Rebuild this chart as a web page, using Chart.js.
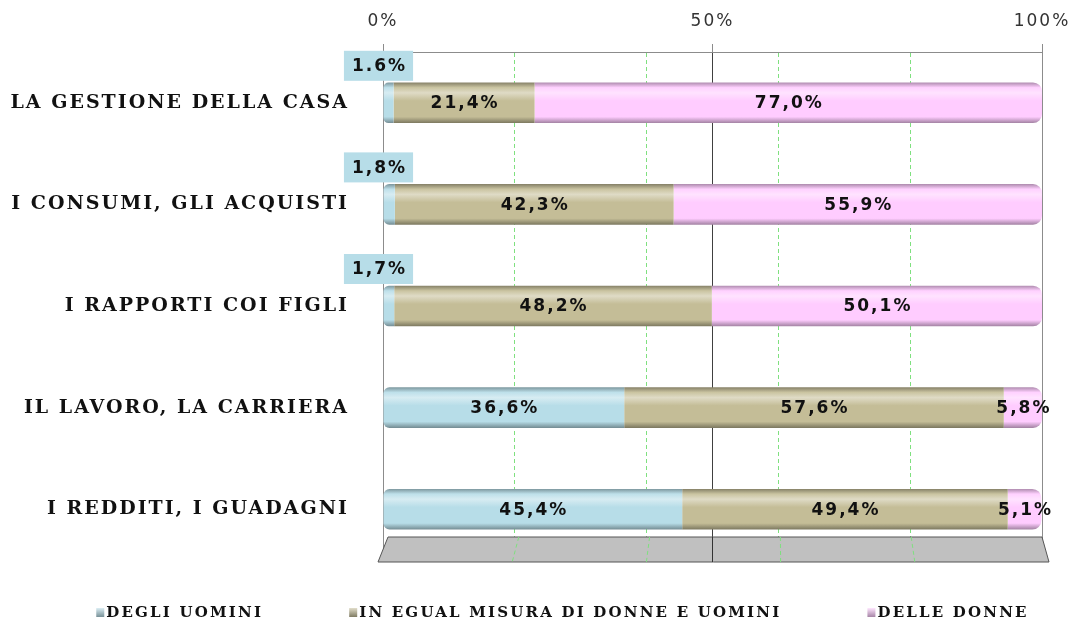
<!DOCTYPE html>
<html>
<head>
<meta charset="utf-8">
<script src="https://cdn.jsdelivr.net/npm/chart.js@4.4.1/dist/chart.umd.min.js"></script>
<style>
  html, body { margin: 0; padding: 0; background: #fff; }
  #wrap { width: 1073px; height: 623px; }
</style>
</head>
<body>
<div id="wrap"><canvas id="chart" width="1073" height="623"></canvas></div>
<script>
// --- data ---
const categories = [
    'LA GESTIONE DELLA CASA',
    'I CONSUMI, GLI ACQUISTI',
    'I RAPPORTI COI FIGLI',
    'IL LAVORO, LA CARRIERA',
    'I REDDITI, I GUADAGNI'
];
const seriesNames = ['DEGLI UOMINI', 'IN EGUAL MISURA DI DONNE E UOMINI', 'DELLE DONNE'];
const menValues = [1.6, 1.8, 1.7, 36.6, 45.4];
const equalValues = [21.4, 42.3, 48.2, 57.6, 49.4];
const womenValues = [77.0, 55.9, 50.1, 5.8, 5.1];
const xTickValues = [0, 50, 100];
const xTickLabels = ['0%', '50%', '100%'];
const minorGrid = [20, 40, 60, 80];

const seriesColors = ['#B7DDE8', '#C4BD97', '#FFCCFF'];

function shade(hex, amt) {
    const n = parseInt(hex.slice(1), 16);
    let r = (n >> 16) & 255, g = (n >> 8) & 255, b = n & 255;
    const t = amt < 0 ? 0 : 255, p = Math.abs(amt);
    r = Math.round(r + (t - r) * p);
    g = Math.round(g + (t - g) * p);
    b = Math.round(b + (t - b) * p);
    return `rgb(${r},${g},${b})`;
}

// vertical gradient so the bars look like tubes
function barFill(color) {
    return (c) => {
        const ys = c.chart.scales.y;
        if (c.type !== 'data' || !ys) return color;
        const yc = ys.getPixelForValue(c.dataIndex);
        if (!isFinite(yc)) return color;
        const h = 20;
        const g = c.chart.ctx.createLinearGradient(0, yc - h, 0, yc + h);
        g.addColorStop(0, shade(color, -0.3));
        g.addColorStop(0.12, shade(color, 0.1));
        g.addColorStop(0.25, shade(color, 0.45));
        g.addColorStop(0.45, color);
        g.addColorStop(0.85, color);
        g.addColorStop(1, shade(color, -0.35));
        return g;
    };
}

function pctText(v, di, i) {
    // first label in the picture is written with a dot
    if (di === 0 && i === 0) return v.toFixed(1) + '%';
    return v.toFixed(1).replace('.', ',') + '%';
}

const spacingPlugin = {
    id: 'spacing',
    beforeLayout(chart) { chart.ctx.letterSpacing = '2px'; },
    beforeDraw(chart) { chart.ctx.letterSpacing = '2px'; }
};

// grey floor under the bars
const floorPlugin = {
    id: 'floor',
    beforeDatasetsDraw(chart) {
        const { ctx, chartArea, scales: { x } } = chart;
        const x0 = x.getPixelForValue(0), x1 = x.getPixelForValue(100);
        const top = chartArea.bottom - 23, bot = chartArea.bottom + 2;
        const tl = x0 + 5, tr = x1, bl = x0 - 5, br = x1 + 7;
        ctx.save();
        ctx.beginPath();
        ctx.moveTo(tl, top); ctx.lineTo(tr, top); ctx.lineTo(br, bot); ctx.lineTo(bl, bot);
        ctx.closePath();
        ctx.fillStyle = '#C0C0C0';
        ctx.fill();
        ctx.strokeStyle = '#555';
        ctx.lineWidth = 1;
        ctx.stroke();
        minorGrid.forEach(v => {
            ctx.beginPath();
            ctx.setLineDash([4, 3]);
            ctx.strokeStyle = '#7FE07F';
            ctx.moveTo(tl + (tr - tl) * v / 100, top);
            ctx.lineTo(bl + (br - bl) * v / 100, bot);
            ctx.stroke();
        });
        ctx.setLineDash([]);
        ctx.strokeStyle = '#333';
        ctx.beginPath();
        ctx.moveTo(x.getPixelForValue(50), top);
        ctx.lineTo(x.getPixelForValue(50), bot);
        ctx.stroke();
        ctx.restore();
    }
};

const valueLabelPlugin = {
    id: 'valueLabels',
    afterDatasetsDraw(chart) {
        const ctx = chart.ctx;
        ctx.save();
        ctx.font = 'bold 17px "DejaVu Sans"';
        ctx.letterSpacing = '2px';
        ctx.textAlign = 'center';
        ctx.textBaseline = 'middle';
        chart.data.datasets.forEach((ds, di) => {
            const meta = chart.getDatasetMeta(di);
            meta.data.forEach((bar, i) => {
                const v = ds.data[i];
                const text = pctText(v, di, i);
                const { x, y, base } = bar.getProps(['x', 'y', 'base'], true);
                if (di === 0 && v < 5) {
                    const w = ctx.measureText(text).width + 14;
                    const cx = base - 5, cy = y - 37;
                    ctx.fillStyle = seriesColors[0];
                    ctx.fillRect(cx - w / 2, cy - 15, w, 30);
                    ctx.fillStyle = '#111';
                    ctx.fillText(text, cx + 1, cy + 1);
                } else {
                    ctx.fillStyle = '#111';
                    ctx.fillText(text, (x + base) / 2 + 1, y + 1);
                }
            });
        });
        ctx.restore();
    }
};

const legendPlugin = {
    id: 'bottomLegend',
    afterDraw(chart) {
        const ctx = chart.ctx;
        ctx.save();
        ctx.font = 'bold 15px "DejaVu Serif"';
        ctx.letterSpacing = '2.2px';
        ctx.textBaseline = 'middle';
        const box = 8, gap = 86, y = 613;
        const items = chart.data.datasets.map((ds, i) => ({
            text: ds.label, color: seriesColors[i],
            w: box + 2 + ctx.measureText(ds.label).width
        }));
        const total = items.reduce((s, it) => s + it.w, 0) + gap * (items.length - 1);
        let x = chart.width / 2 + 26 - total / 2;
        items.forEach(it => {
            const g = ctx.createLinearGradient(0, y - 5, 0, y + 4);
            g.addColorStop(0, shade(it.color, 0.5));
            g.addColorStop(1, shade(it.color, -0.35));
            ctx.fillStyle = g;
            ctx.fillRect(x, y - 5, box, box + 1);
            ctx.fillStyle = '#111';
            ctx.fillText(it.text, x + box + 2, y);
            x += it.w + gap;
        });
        ctx.restore();
    }
};

const ctx = document.getElementById('chart').getContext('2d');
const valueSets = [menValues, equalValues, womenValues];
const radii = [
    { topLeft: 6, bottomLeft: 6, topRight: 0, bottomRight: 0 },
    0,
    { topLeft: 0, bottomLeft: 0, topRight: 9, bottomRight: 9 }
];

new Chart(ctx, {
    type: 'bar',
    data: {
        labels: categories,
        datasets: seriesNames.map((name, i) => ({
            label: name,
            data: valueSets[i],
            backgroundColor: barFill(seriesColors[i]),
            borderRadius: radii[i],
            borderSkipped: false,
            barPercentage: 0.4,
            categoryPercentage: 1.0
        }))
    },
    options: {
        indexAxis: 'y',
        responsive: false,
        animation: false,
        devicePixelRatio: 1,
        layout: { padding: { left: 10, right: 31, top: 8, bottom: 63 } },
        plugins: {
            legend: { display: false },
            tooltip: { enabled: false }
        },
        scales: {
            x: {
                position: 'top',
                stacked: true,
                min: 0,
                max: 100,
                afterFit: (s) => {
                    s.height = 44;
                    s.paddingLeft = 0;
                    s.paddingRight = 0;
                },
                afterBuildTicks: (s) => {
                    const t = [];
                    for (let v = 0; v <= 100; v += 10) t.push({ value: v });
                    s.ticks = t;
                },
                ticks: {
                    autoSkip: false,
                    maxRotation: 0,
                    padding: 12,
                    color: '#333',
                    font: { family: 'DejaVu Sans', size: 17 },
                    callback: (v) => {
                        const k = xTickValues.indexOf(v);
                        return k >= 0 ? xTickLabels[k] : '';
                    }
                },
                grid: {
                    tickLength: 8,
                    color: (c) => {
                        const v = c.tick && c.tick.value;
                        if (v === 50) return '#404040';
                        if (xTickValues.includes(v)) return '#8C8C8C';
                        if (minorGrid.includes(v)) return '#7FE07F';
                        return 'rgba(0,0,0,0)';
                    },
                    tickColor: (c) => {
                        const v = c.tick && c.tick.value;
                        return xTickValues.includes(v) ? '#8C8C8C' : 'rgba(0,0,0,0)';
                    }
                },
                border: {
                    color: '#8C8C8C',
                    dash: (c) => {
                        const v = c.tick && c.tick.value;
                        return minorGrid.includes(v) ? [4, 3] : [];
                    }
                }
            },
            y: {
                stacked: true,
                afterFit: (s) => { s.width = 373; },
                grid: { display: false },
                border: { color: '#8C8C8C' },
                ticks: {
                    padding: 26,
                    color: '#111',
                    font: { family: 'DejaVu Serif', size: 19, weight: 'bold' }
                }
            }
        }
    },
    plugins: [spacingPlugin, floorPlugin, valueLabelPlugin, legendPlugin]
});
</script>
</body>
</html>
